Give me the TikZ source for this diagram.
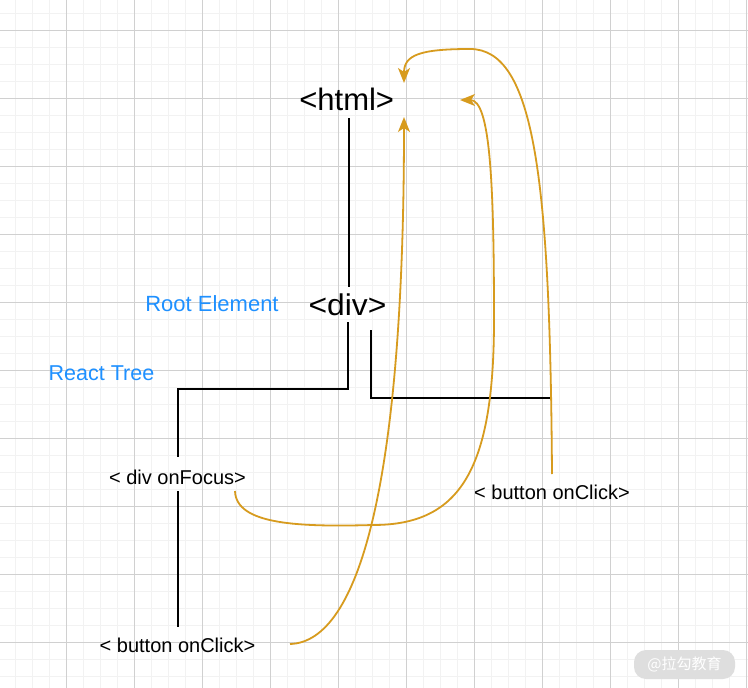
\documentclass[tikz,border=0pt]{standalone}
\usepackage{fontspec}
\setmainfont{Liberation Sans}
\newfontfamily\cjk{Noto Sans CJK SC}
\usetikzlibrary{arrows.meta}
\definecolor{orangeline}{RGB}{215,155,30}
\definecolor{bluetext}{RGB}{30,144,255}
\definecolor{gridmajor}{RGB}{208,208,208}
\definecolor{gridminor}{RGB}{242,242,242}
\definecolor{wmgray}{RGB}{222,222,222}
\begin{document}
\begin{tikzpicture}[x=1pt,y=-1pt,
  minorline/.style={gridminor, line width=1.3pt},
  majorline/.style={gridmajor, line width=1pt},
  treeline/.style={black, line width=2pt, line join=miter},
  bubble/.style={orangeline, line width=1.8pt, -{Stealth[length=15pt,width=12pt,inset=4pt]}},
  lbl/.style={inner sep=0pt, anchor=base},
]
\useasboundingbox (0,0) rectangle (748,688);
\fill[white] (0,0) rectangle (748,688);
% grid
\foreach \i in {0,...,44} { \draw[minorline] ({-1.5+17*\i},0) -- ({-1.5+17*\i},688); }
\foreach \j in {0,...,41} { \draw[minorline] (0,{-3.7+17*\j}) -- (748,{-3.7+17*\j}); }
\foreach \k in {1,...,11} { \draw[majorline] ({-1.5+68*\k},0) -- ({-1.5+68*\k},688); }
\foreach \k in {0,...,9} { \draw[majorline] (0,{30.3+68*\k}) -- (748,{30.3+68*\k}); }

% connection points
\coordinate (htmlS) at (349,118);
\coordinate (divN) at (349,287);
\coordinate (divSL) at (348,322);
\coordinate (elbowA) at (348,389);
\coordinate (elbowB) at (178,389);
\coordinate (focusN) at (178,457);
\coordinate (divSR) at (371,330);
\coordinate (elbowC) at (371,397.5);
\coordinate (btnRjoin) at (552,397.5);
\coordinate (focusS) at (178,491);
\coordinate (btnLN) at (178,627);
\coordinate (btnLE) at (290,644);
\coordinate (focusE) at (235,491);
\coordinate (btnRN) at (552,474);
\coordinate (htmlTipB) at (404,117);
\coordinate (htmlTipR) at (460,100);
\coordinate (htmlTipT) at (404,83);

% tree
\draw[treeline] (htmlS) -- (divN);
\draw[treeline] (divSL) -- (elbowA) -- (elbowB) -- (focusN);
\draw[treeline] (divSR) -- (elbowC) -- (btnRjoin);
\draw[treeline] (focusS) -- (btnLN);

% bubbling curves
\draw[bubble] (btnLE) .. controls (360,642) and (404,480) .. (htmlTipB);
\draw[bubble] (focusE) .. controls (236,525) and (300,527) .. (373,525)
   .. controls (460,525) and (494,470) .. (494,320)
   .. controls (494,180) and (490,100) .. (htmlTipR);
\draw[bubble] (btnRN) .. controls (550,180) and (535,49) .. (470,49)
   .. controls (420,49) and (404,55) .. (htmlTipT);

% labels
\node[lbl] (html) at (346.7,110) {\fontsize{31}{36}\selectfont <html>};
\node[lbl] (div) at (347.5,315) {\fontsize{30}{35}\selectfont\scalebox{1.06}[1]{<div>}};
\node[lbl, text=bluetext] (root) at (212,311.7) {\fontsize{22}{26}\selectfont Root Element};
\node[lbl, text=bluetext] (react) at (101.5,380) {\fontsize{21.5}{26}\selectfont React Tree};
\node[lbl] (focus) at (177.5,484) {\fontsize{20}{24}\selectfont < div onFocus>};
\node[lbl] (btnR) at (552,499) {\fontsize{20}{24}\selectfont < button onClick>};
\node[lbl] (btnL) at (177.5,652) {\fontsize{20}{24}\selectfont < button onClick>};

% watermark
\node[fill=wmgray, rounded corners=12pt, minimum width=101pt, minimum height=29pt, inner sep=0pt, text=white] (wm) at (684.5,664.5) {\cjk\fontsize{15}{18}\selectfont @拉勾教育};
\end{tikzpicture}
\end{document}
